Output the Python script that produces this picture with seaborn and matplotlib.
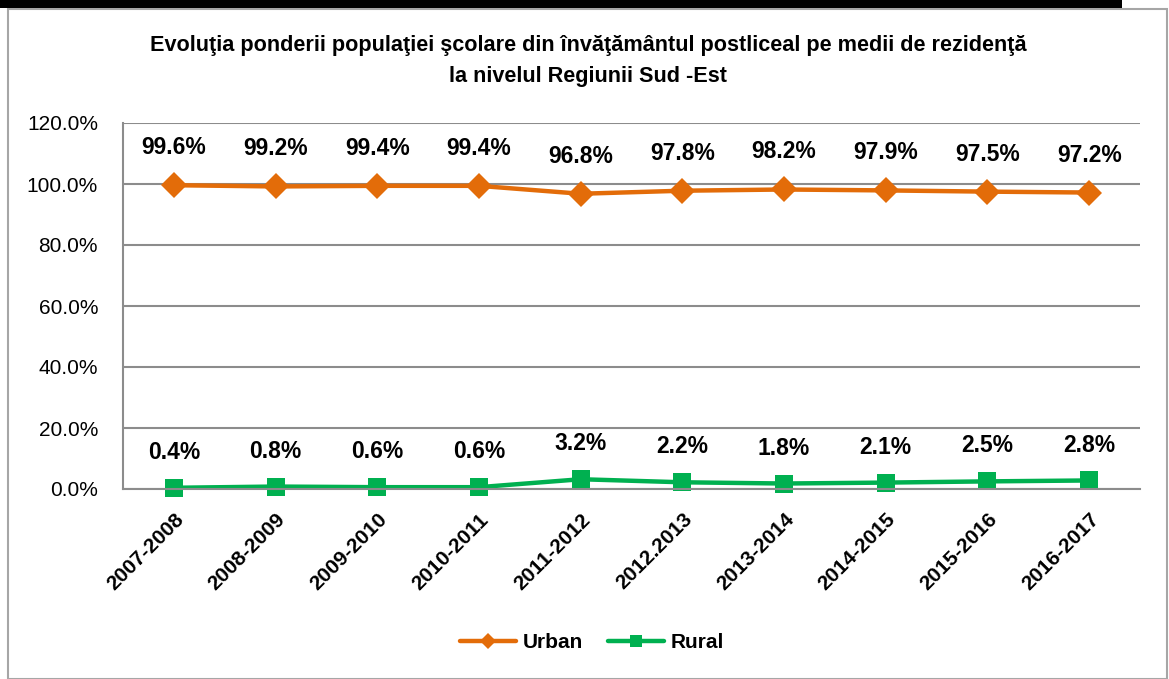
import matplotlib
matplotlib.use("Agg")
import matplotlib.pyplot as plt
import seaborn as sns
import pandas as pd
from matplotlib.patches import Rectangle

years = ["2007-2008", "2008-2009", "2009-2010", "2010-2011", "2011-2012",
         "2012.2013", "2013-2014", "2014-2015", "2015-2016", "2016-2017"]
urban = [99.6, 99.2, 99.4, 99.4, 96.8, 97.8, 98.2, 97.9, 97.5, 97.2]
rural = [0.4, 0.8, 0.6, 0.6, 3.2, 2.2, 1.8, 2.1, 2.5, 2.8]
yticks = [0, 20, 40, 60, 80, 100, 120]
title = "Evoluţia ponderii populaţiei şcolare din învăţământul postliceal pe medii de rezidenţă\nla nivelul Regiunii Sud -Est"

sns.set_style("white")
plt.rcParams["font.family"] = ["Liberation Sans", "DejaVu Sans"]
plt.rcParams["text.color"] = "black"
plt.rcParams["xtick.color"] = "black"
plt.rcParams["ytick.color"] = "black"

ORANGE = "#E36C09"
GREEN = "#00B050"
GRID = "#8C8C8C"

df = pd.DataFrame({"An": years * 2,
                   "Val": urban + rural,
                   "Mediu": ["Urban"] * len(years) + ["Rural"] * len(years)})

fig = plt.figure(figsize=(11.69, 6.79), dpi=100)
ax = fig.add_axes([123/1169, 1-489/679, (1140-123)/1169, (489-123)/679])

sns.lineplot(data=df[df.Mediu == "Urban"], x="An", y="Val", ax=ax, color=ORANGE,
             marker="D", markersize=13, markeredgewidth=0, linewidth=3.2,
             sort=False, label="Urban", clip_on=False)
sns.lineplot(data=df[df.Mediu == "Rural"], x="An", y="Val", ax=ax, color=GREEN,
             marker="s", markersize=13, markeredgewidth=0, linewidth=3.2,
             sort=False, label="Rural", clip_on=False)

for i, v in enumerate(urban):
    ax.annotate(f"{v:.1f}%", (i, v), xytext=(0, 27), textcoords="offset points",
                ha="center", va="center", fontsize=16.5, fontweight="bold")
for i, v in enumerate(rural):
    ax.annotate(f"{v:.1f}%", (i, v), xytext=(0, 25.5), textcoords="offset points",
                ha="center", va="center", fontsize=16.5, fontweight="bold")

ax.set_xlim(-0.5, len(years) - 0.5)
ax.set_ylim(0, 120)
ax.set_yticks(yticks)
ax.set_yticklabels([f"{t:.1f}%" for t in yticks], fontsize=15)
ax.yaxis.grid(True, color=GRID, linewidth=1.5)
ax.set_axisbelow(True)
ax.tick_params(axis="y", length=0, pad=18)
ax.tick_params(axis="x", length=0, pad=15)
ax.set_xticks(range(len(years)))
ax.set_xticklabels(years, rotation=45, ha="right", rotation_mode="anchor",
                   fontsize=15, fontweight="bold")
ax.set_xlabel("")
ax.set_ylabel("")
for s in ["top", "right"]:
    ax.spines[s].set_visible(False)
for s in ["left", "bottom"]:
    ax.spines[s].set_color(GRID)
    ax.spines[s].set_linewidth(1.5)

leg = ax.legend(loc="center", bbox_to_anchor=(592/1169, 1-643/679),
                bbox_transform=fig.transFigure, ncol=2, frameon=False,
                fontsize=15, handlelength=2.7, handletextpad=0.3, columnspacing=1.2)
for t in leg.get_texts():
    t.set_fontweight("bold")
for h in leg.legend_handles:
    h.set_markersize(8)

fig.text(588/1169, 1-61/679, title, ha="center", va="center", fontsize=15.6,
         fontweight="bold", linespacing=1.65)

fig.patches.append(Rectangle((7.5/1169, 0), (1167-7.5)/1169, 1-9/679,
                             transform=fig.transFigure, fill=False,
                             edgecolor="#A6A6A6", linewidth=1.5, zorder=0))
fig.patches.append(Rectangle((0, 1-8/679), 1122/1169, 8/679,
                             transform=fig.transFigure, facecolor="black",
                             edgecolor="none", zorder=1))

fig.savefig("out.png", dpi=100)
